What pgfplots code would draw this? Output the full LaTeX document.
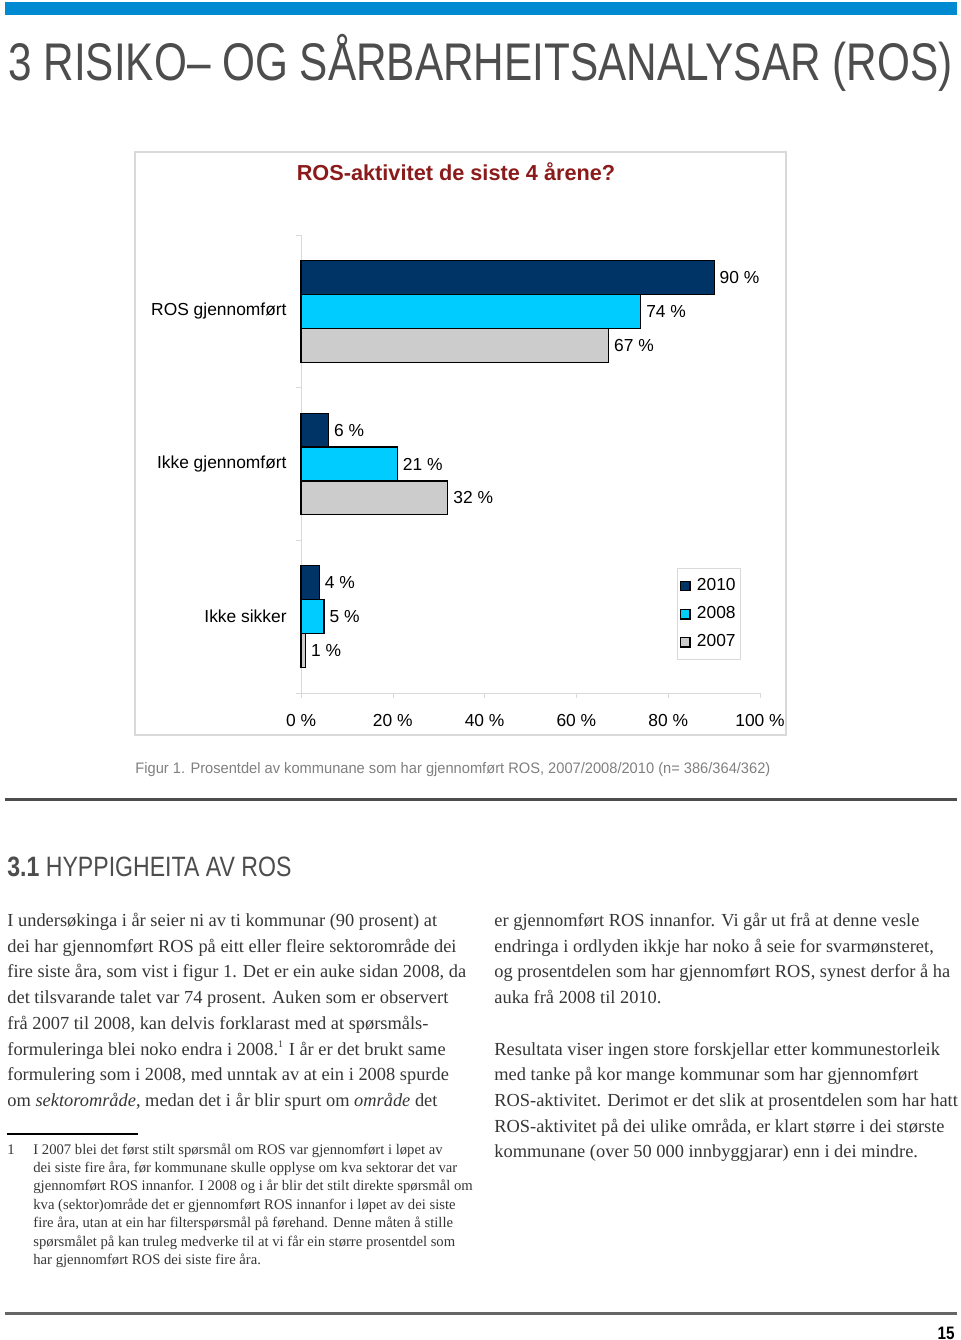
\documentclass[border=0pt]{standalone}
\usepackage{pgfplots}
\pgfplotsset{compat=1.18}
\usepackage{fontspec}
\usepackage{graphicx}
\setmainfont{Liberation Serif}
\newfontfamily\arial{Liberation Sans}
\definecolor{navy}{HTML}{003366}
\definecolor{cyanb}{HTML}{00CCFF}
\definecolor{grayb}{HTML}{CCCCCC}
\definecolor{titred}{HTML}{8B1A1A}
\definecolor{topblue}{HTML}{008AD2}
\definecolor{txt}{HTML}{363636}
\definecolor{head}{HTML}{4D4D4D}
\definecolor{rulegray}{HTML}{666666}
\definecolor{capgray}{HTML}{808080}
\definecolor{axgray}{HTML}{D9D9D9}
\newcommand\Ln[3]{\node[anchor=base west,inner sep=0pt,text=txt,font=\fontsize{9.2}{11}\selectfont] at (#1,#2) {#3};}
\newcommand\Fn[3]{\node[anchor=base west,inner sep=0pt,text=txt,font=\fontsize{7.33}{9}\selectfont] at (#1,#2) {#3};}
\begin{document}
\begin{tikzpicture}
\begin{scope}[x=0.5pt,y=-0.5pt]
\useasboundingbox (0,0) rectangle (960,1340);
\fill[white] (0,0) rectangle (960,1340);
\fill[topblue] (5,2) rectangle (957,15);
\node[anchor=base west,inner sep=0pt,text=head] at (8,80) {\resizebox{472pt}{\height}{\arial\fontsize{26.5}{30}\selectfont 3 RISIKO– OG SÅRBARHEITSANALYSAR (ROS)}};
% chart frame
\draw[axgray,line width=0.6pt] (135,152) rectangle (786,735);
\node[anchor=base,inner sep=0pt,text=titred] at (456,180) {\arial\bfseries\fontsize{10.85}{13}\selectfont ROS-aktivitet de siste 4 årene?};
% caption
\node[anchor=base west,inner sep=0pt,text=capgray] at (135,773) {\resizebox{317.5pt}{\height}{\arial\fontsize{7.6}{9}\selectfont Figur 1. Prosentdel av kommunane som har gjennomført ROS, 2007/2008/2010 (n= 386/364/362)}};
\fill[head] (5,798) rectangle (957,800.5);
% section heading
\node[anchor=base west,inner sep=0pt,text=head] at (7,876) {\resizebox{142pt}{\height}{\arial\fontsize{14}{16}\selectfont\textbf{3.1} HYPPIGHEITA AV ROS}};
% left column
\Ln{7}{926}{I undersøkinga i år seier ni av ti kommunar (90 prosent) at}
\Ln{7}{952}{dei har gjennomført ROS på eitt eller fleire sektorområde dei}
\Ln{7}{977}{fire siste åra, som vist i figur 1. Det er ein auke sidan 2008, da}
\Ln{7}{1003}{det tilsvarande talet var 74 prosent. Auken som er observert}
\Ln{7}{1029}{frå 2007 til 2008, kan delvis forklarast med at spørsmåls-}
\Ln{7}{1055}{formuleringa blei noko endra i 2008.\textsuperscript{\tiny 1} I år er det brukt same}
\Ln{7}{1080}{formulering som i 2008, med unntak av at ein i 2008 spurde}
\Ln{7}{1106}{om \textit{sektorområde}, medan det i år blir spurt om \textit{område} det}
% right column
\Ln{494}{926}{er gjennomført ROS innanfor. Vi går ut frå at denne vesle}
\Ln{494}{952}{endringa i ordlyden ikkje har noko å seie for svarmønsteret,}
\Ln{494}{977}{og prosentdelen som har gjennomført ROS, synest derfor å ha}
\Ln{494}{1003}{auka frå 2008 til 2010.}
\Ln{494}{1055}{Resultata viser ingen store forskjellar etter kommunestorleik}
\Ln{494}{1080}{med tanke på kor mange kommunar som har gjennomført}
\Ln{494}{1106}{ROS-aktivitet. Derimot er det slik at prosentdelen som har hatt}
\Ln{494}{1132}{ROS-aktivitet på dei ulike områda, er klart større i dei største}
\Ln{494}{1157}{kommunane (over 50 000 innbyggjarar) enn i dei mindre.}
% footnote
\draw[black,line width=0.6pt] (7,1134) -- (138,1134);
\Fn{7}{1154}{1}
\Fn{33}{1154}{I 2007 blei det først stilt spørsmål om ROS var gjennomført i løpet av}
\Fn{33}{1172}{dei siste fire åra, før kommunane skulle opplyse om kva sektorar det var}
\Fn{33}{1190}{gjennomført ROS innanfor. I 2008 og i år blir det stilt direkte spørsmål om}
\Fn{33}{1209}{kva (sektor)område det er gjennomført ROS innanfor i løpet av dei siste}
\Fn{33}{1227}{fire åra, utan at ein har filterspørsmål på førehand. Denne måten å stille}
\Fn{33}{1246}{spørsmålet på kan truleg medverke til at vi får ein større prosentdel som}
\Fn{33}{1264}{har gjennomført ROS dei siste fire åra.}
% bottom rule and page number
\fill[rulegray] (5,1311.5) rectangle (957,1314.5);
\node[anchor=base east,inner sep=0pt,text=black] at (955,1339) {\resizebox{8.5pt}{\height}{\arial\bfseries\fontsize{9}{10}\selectfont 15}};
\end{scope}
\begin{axis}[
  at={(150.5pt,-346.5pt)}, anchor=south west,
  scale only axis, width=229.5pt, height=229pt,
  xbar, bar width=0.222,
  xmin=0, xmax=100, ymin=0, ymax=3,
  axis x line*=bottom, axis y line*=left,
  axis line style={draw=axgray,-},
  tick align=outside,
  xtick={0,20,40,60,80,100},
  xticklabels={0 \%,20 \%,40 \%,60 \%,80 \%,100 \%},
  ytick={0.5,1.5,2.5},
  yticklabels={Ikke sikker,Ikke gjennomført,ROS gjennomført},
  minor ytick={0,1,2,3},
  major y tick style={draw=none},
  minor y tick style={draw=axgray},
  x tick style={draw=axgray},
  major tick length=2.5pt, minor tick length=2.5pt,
  ticklabel style={font=\arial\fontsize{8.7}{10}\selectfont, text=black, inner sep=0pt},
  xticklabel style={yshift=-8pt},
  yticklabel style={xshift=-4.5pt},
  /pgf/number format/assume math mode=true,
  nodes near coords={\pgfmathprintnumber{\pgfplotspointmeta}~\%},
  every node near coord/.append style={font=\arial\fontsize{8.7}{10}\selectfont, text=black, inner sep=0pt, anchor=west, xshift=2.5pt},
  legend style={at={(0.819,0.273)}, anchor=north west, draw=axgray, fill=white,
    font=\arial\fontsize{8.7}{10}\selectfont, row sep=0.5pt, inner xsep=1pt, inner ysep=2pt,
    nodes={inner xsep=1.5pt, inner ysep=3pt}},
  legend cell align=left,
  legend image code/.code={\path[draw=none,fill=none] (0pt,0pt) -- (7.3pt,0pt); \draw[#1] (0.5pt,-2.4pt) rectangle (5.3pt,2.4pt);},
  clip=false,
]
\addplot[fill=navy, draw=black, line width=0.6pt, bar shift=0.222] coordinates {(90,2.5) (6,1.5) (4,0.5)};
\addplot[fill=cyanb, draw=black, line width=0.6pt, bar shift=0] coordinates {(74,2.5) (21,1.5) (5,0.5)};
\addplot[fill=grayb, draw=black, line width=0.6pt, bar shift=-0.222] coordinates {(67,2.5) (32,1.5) (1,0.5)};
\legend{2010,2008,2007}
\end{axis}
\end{tikzpicture}
\end{document}
